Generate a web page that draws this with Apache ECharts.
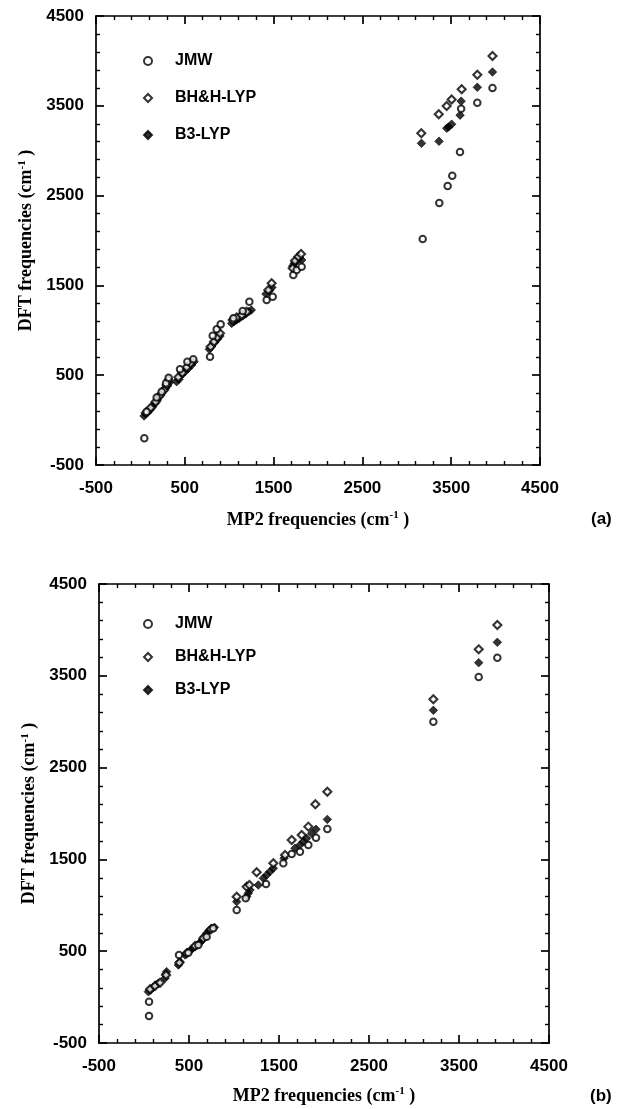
<!DOCTYPE html>
<html>
<head>
<meta charset="utf-8">
<script src="https://cdn.jsdelivr.net/npm/echarts@6/dist/echarts.min.js"></script>
<style>
html,body{margin:0;padding:0;background:#fff}
#main{width:619px;height:1109px}
</style>
</head>
<body>
<div id="main"></div>
<script>
// axis range (cm-1), same for both panels
var axisMin = -500, axisMax = 4500, axisStep = 1000;
var names = ['JMW', 'BH&H-LYP', 'B3-LYP'];

// panel (a): [MP2, DFT]
var jmwA = [[44,-203],[70,94],[183,253],[239,317],[288,409],[318,472],[446,565],[529,651],[596,677],
  [784,706],[814,940],[859,1011],[904,1066],[1047,1133],[1152,1215],[1227,1319],[1422,1337],[1490,1374],
  [1722,1616],[1760,1671],[1816,1709],[3179,2017],[3366,2418],[3460,2607],[3512,2722],[3599,2986],
  [3612,3466],[3794,3535],[3965,3698]];
var bhhA = [[63,83],[116,138],[172,205],[221,276],[266,335],[296,391],[318,446],[427,476],[472,528],
  [521,588],[566,632],[791,818],[829,873],[866,922],[896,966],[1039,1115],[1084,1144],[1141,1170],
  [1197,1207],[1441,1449],[1478,1523],[1715,1690],[1741,1775],[1779,1820],[1809,1850],[3163,3194],
  [3360,3405],[3449,3498],[3505,3570],[3618,3684],[3794,3846],[3965,4055]];
var b3A = [[41,46],[59,68],[82,86],[108,112],[138,149],[164,187],[191,224],[213,261],[239,298],[258,328],
  [281,354],[303,380],[326,417],[408,428],[435,454],[465,502],[502,539],[540,576],[577,613],[604,651],
  [776,788],[803,825],[833,862],[866,899],[896,936],[1028,1077],[1054,1096],[1084,1115],[1114,1133],
  [1152,1159],[1185,1181],[1219,1207],[1249,1226],[1414,1404],[1452,1441],[1482,1478],[1715,1716],
  [1734,1746],[1760,1775],[1790,1805],[1816,1783],[3165,3082],[3363,3105],[3450,3250],[3470,3265],
  [3505,3295],[3600,3396],[3612,3552],[3794,3706],[3965,3876]];

// panel (b): [MP2, DFT]
var jmwB = [[56,-206],[56,-50],[389,459],[493,484],[604,568],[696,658],[770,749],[1030,949],[1130,1076],
  [1356,1232],[1548,1457],[1641,1559],[1733,1584],[1826,1657],[1911,1737],[2037,1831],[3215,3000],
  [3719,3487],[3926,3697]];
var bhhB = [[67,85],[122,121],[178,157],[245,241],[393,375],[474,477],[567,557],[659,640],[744,738],
  [1030,1094],[1141,1203],[1171,1221],[1252,1359],[1437,1457],[1567,1548],[1641,1711],[1752,1766],
  [1826,1857],[1904,2100],[2037,2238],[3215,3244],[3719,3788],[3926,4053]];
var b3B = [[48,59],[74,78],[104,107],[130,132],[159,150],[233,205],[241,252],[252,277],[382,350],[400,386],
  [456,459],[485,484],[511,506],[537,528],[567,550],[593,568],[622,593],[648,622],[670,658],[696,695],
  [722,724],[752,746],[782,760],[1030,1040],[1141,1094],[1159,1131],[1178,1167],[1270,1221],[1326,1294],
  [1363,1330],[1400,1367],[1437,1403],[1556,1512],[1678,1621],[1733,1657],[1770,1693],[1807,1730],
  [1863,1784],[1911,1828],[2037,1936],[3215,3124],[3719,3643],[3926,3865]];

var labelFont = {color:'#000', fontFamily:'Liberation Sans', fontSize:17, fontWeight:'bold'};
var titleFont = {color:'#000', fontFamily:'Liberation Serif', fontSize:18, fontWeight:'bold',
  rich:{sup:{fontFamily:'Liberation Serif', fontSize:11, fontWeight:'bold', padding:[0,0,9,0]}}};
var lineStyle = {color:'#000', width:1.7};

function axis(gridIndex, position, showLabel, nameText, nameGap, isY) {
  var a = {
    type:'value', gridIndex:gridIndex, position:position,
    min:axisMin, max:axisMax, interval:axisStep,
    axisLine:{show:true, onZero:false, lineStyle:lineStyle},
    axisTick:{show:true, inside:true, length:8, lineStyle:lineStyle},
    minorTick:{show:true, splitNumber:5, length:4, lineStyle:{color:'#000', width:1.4}},
    splitLine:{show:false},
    axisLabel:Object.assign({show:showLabel, margin:isY ? 12 : 15,
      formatter:function (v) { return String(v); }}, labelFont)
  };
  if (nameText) {
    a.name = nameText;
    a.nameLocation = 'middle';
    a.nameGap = nameGap;
    a.nameTextStyle = titleFont;
    if (isY) a.nameRotate = 90;
  }
  return a;
}

var xName = 'MP2 frequencies (cm{sup|-1} )';
var yName = 'DFT frequencies (cm{sup|-1} )';

var openCircle = {symbol:'circle', symbolSize:6.5, itemStyle:{color:'#fff', borderColor:'#000', borderWidth:2}};
var openDiamond = {symbol:'diamond', symbolSize:8, itemStyle:{color:'#fff', borderColor:'#000', borderWidth:2.1}};
var fullDiamond = {symbol:'diamond', symbolSize:8.5, itemStyle:{color:'#000', borderColor:'#000', borderWidth:0.8}};

function scatter(name, data, xi, yi, look) {
  return Object.assign({type:'scatter', name:name, data:data, xAxisIndex:xi, yAxisIndex:yi,
    animation:false, emphasis:{disabled:true}}, JSON.parse(JSON.stringify(look)));
}

function legend(top, gap) {
  return {
    orient:'vertical', left:138, top:top, itemGap:gap, itemWidth:8, itemHeight:8,
    selectedMode:false, data:names,
    formatter:'{t|{name}}',
    textStyle:{color:'#000', fontFamily:'Liberation Sans', fontSize:16, fontWeight:'bold',
      rich:{t:{fontFamily:'Liberation Sans', fontSize:16, fontWeight:'bold', padding:[0,0,0,18]}}}
  };
}

var chart = echarts.init(document.getElementById('main'), null, {renderer:'canvas'});
chart.setOption({
  backgroundColor:'#fff',
  animation:false,
  grid:[
    {left:96, top:16, width:444, height:449},
    {left:99, top:584, width:450, height:459}
  ],
  xAxis:[
    axis(0, 'bottom', true, xName, 45, false),
    axis(0, 'top', false),
    axis(1, 'bottom', true, xName, 43, false),
    axis(1, 'top', false)
  ],
  yAxis:[
    axis(0, 'left', true, yName, 57, true),
    axis(0, 'right', false),
    axis(1, 'left', true, yName, 59, true),
    axis(1, 'right', false)
  ],
  legend:[legend(48, 21), legend(611, 17)],
  graphic:[
    {type:'text', left:591, top:511, style:{text:'(a)', font:'bold 17px "Liberation Sans"', fill:'#000'}},
    {type:'text', left:590, top:1088, style:{text:'(b)', font:'bold 17px "Liberation Sans"', fill:'#000'}}
  ],
  series:[
    scatter('B3-LYP', b3A, 0, 0, fullDiamond),
    scatter('BH&H-LYP', bhhA, 0, 0, openDiamond),
    scatter('JMW', jmwA, 0, 0, openCircle),
    scatter('B3-LYP', b3B, 2, 2, fullDiamond),
    scatter('BH&H-LYP', bhhB, 2, 2, openDiamond),
    scatter('JMW', jmwB, 2, 2, openCircle)
  ]
});
</script>
</body>
</html>
